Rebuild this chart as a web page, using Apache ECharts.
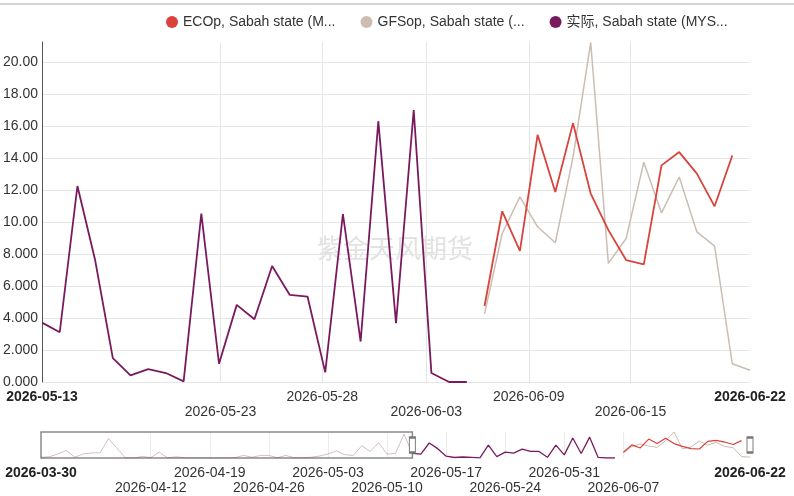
<!DOCTYPE html>
<html><head><meta charset="utf-8">
<script src="https://cdn.jsdelivr.net/npm/echarts@6/dist/echarts.min.js"></script>
<style>html,body{margin:0;padding:0;background:#fff}#c{width:794px;height:496px}</style>
</head><body><div id="c"></div>
<script>
// ---------- data ----------
const seriesNames = ['ECOp, Sabah state (M...', 'GFSop, Sabah state (...', '实际, Sabah state (MYS...'];
const watermarkText = '紫金天风期货';

const actualStart = '2026-03-30';
const actualValues = [0.6, 1.0, 3.3, 6.2, 0.6, 3.3, 4.2, 4.2, 15.8, 8.0,
  0.1, 0, 1.2, 0.3, 4.8, 0.1, 1.0, 0.2, 0, 0,
  0, 0, 0, 0.3, 2.1, 0.6, 2.1, 2.1, 0.2, 2.1,
  0.2, 0.2, 0.6, 1.6, 3.3, 5.8, 2.7, 2.1, 10.0, 5.4,
  12.5, 3.1, 3.75, 19.4,
  3.71, 3.11, 12.25, 7.62, 1.49, 0.41, 0.81, 0.56, 0.04, 10.53,
  1.14, 4.82, 3.92, 7.25, 5.44, 5.34, 0.6, 10.5, 2.53, 16.3,
  3.67, 17.0, 0.56, 0, 0];

const forecastStart = '2026-06-07';
const ecopValues = [4.75, 10.67, 8.2, 15.45, 11.88, 16.18, 11.78, 9.49, 7.62, 7.35, 13.54, 14.37, 13.02, 10.98, 14.16];
const gfsopValues = [4.26, 9.28, 11.57, 9.7, 8.7, 14.06, 21.22, 7.41, 8.97, 13.74, 10.57, 12.81, 9.38, 8.49, 1.14, 0.73];

const viewStart = '2026-05-13';
const viewEnd = '2026-06-22';
const fullStart = '2026-03-30';
const fullEnd = '2026-06-22';
const mainTickValues = ['2026-05-23 02:00', '2026-05-28 20:00', '2026-06-03 17:00', '2026-06-09 12:00', '2026-06-15 06:00'];
const navTickValues = ['2026-04-12', '2026-04-19', '2026-04-26', '2026-05-03', '2026-05-10', '2026-05-17', '2026-05-24', '2026-05-31', '2026-06-07'];
const yTickValues = [0, 2, 4, 6, 8, 10, 12, 14, 16, 18, 20];

// ---------- helpers ----------
function parseLocal(s) {
  const parts = s.split(' ');
  const dp = parts[0].split('-').map(Number);
  let h = 0, mi = 0;
  if (parts[1]) { const tp = parts[1].split(':').map(Number); h = tp[0]; mi = tp[1]; }
  return new Date(dp[0], dp[1] - 1, dp[2], h, mi).getTime();
}
function seq(start, values) {
  const d0 = new Date(parseLocal(start));
  return values.map((v, i) => [new Date(d0.getFullYear(), d0.getMonth(), d0.getDate() + i).getTime(), v]);
}
function pad(n) { return (n < 10 ? '0' : '') + n; }
function fmt(ts) { const d = new Date(ts); return d.getFullYear() + '-' + pad(d.getMonth() + 1) + '-' + pad(d.getDate()); }
function makeFormatter(list) {
  return function (value) {
    const v = typeof value === 'number' ? value : +value;
    const i = list.findIndex(t => Math.abs(t - v) < 60000);
    if (i < 0) return '';
    const txt = fmt(v);
    if (i === 0 || i === list.length - 1) return '{b|' + txt + '}';
    return (i % 2 === 1 ? '\n' : '') + txt;
  };
}

const vStart = parseLocal(viewStart), vEnd = parseLocal(viewEnd);
const fStart = parseLocal(fullStart), fEnd = parseLocal(fullEnd);
const actualData = seq(actualStart, actualValues);
const ecopData = seq(forecastStart, ecopValues);
const gfsopData = seq(forecastStart, gfsopValues);
const navMax = Math.max(...actualValues, ...ecopValues, ...gfsopValues);
const actualInView = actualData.filter(p => p[0] >= vStart && p[0] <= vEnd);
const actualOutView = actualData.filter(p => p[0] <= vStart);

const mainTicks = mainTickValues.map(parseLocal);
const mainLabels = [vStart].concat(mainTicks, [vEnd]);
const navTicks = navTickValues.map(parseLocal);
const navLabels = [fStart].concat(navTicks, [fEnd]);

const colors = { ecop: '#d9433c', gfsop: '#cbbdb1', actual: '#7a1a5e' };
const FONT = '"Liberation Sans", Arial, "Noto Sans CJK SC", sans-serif';

const chart = echarts.init(document.getElementById('c'), null, { renderer: 'canvas' });
chart.setOption({
  animation: false,
  backgroundColor: '#fff',
  textStyle: { fontFamily: FONT },
  legend: {
    data: seriesNames,
    left: 161, top: 10,
    icon: 'circle', itemWidth: 12, itemHeight: 12, itemGap: 25,
    textStyle: { fontSize: 14, color: '#333', fontFamily: FONT }
  },
  graphic: [
    { type: 'rect', shape: { x: 0, y: 3, width: 794, height: 2 }, style: { fill: '#d4d4d4' }, silent: true },
    { type: 'text', x: 395, y: 248, z: 0, silent: true,
      style: { text: watermarkText, fontSize: 26, fill: '#e2e2e2', align: 'center', verticalAlign: 'middle', fontFamily: '"Noto Sans CJK SC", sans-serif' } }
  ],
  grid: [
    { left: 41, right: 44, top: 42, bottom: 114 },
    { left: 41, right: 44, top: 432, bottom: 30 }
  ],
  xAxis: [
    {
      type: 'value', gridIndex: 0, min: vStart, max: vEnd, scale: true,
      axisLine: { show: false }, axisTick: { show: false, customValues: mainTicks },
      splitLine: { show: true, lineStyle: { color: '#e6e6e6', width: 1 } },
      axisLabel: {
        customValues: mainLabels, formatter: makeFormatter(mainLabels),
        fontSize: 14, color: '#333', margin: 8, lineHeight: 15, fontFamily: FONT,
        rich: { b: { fontSize: 14, fontWeight: 'bold', color: '#222', lineHeight: 15, fontFamily: FONT } }
      }
    },
    {
      type: 'value', gridIndex: 1, min: fStart, max: fEnd, scale: true,
      axisLine: { show: false }, axisTick: { show: false, customValues: navTicks },
      splitLine: { show: true, lineStyle: { color: '#ececec', width: 1 } },
      axisLabel: {
        customValues: navLabels, formatter: makeFormatter(navLabels),
        fontSize: 14, color: '#333', margin: 8, lineHeight: 15, fontFamily: FONT,
        rich: { b: { fontSize: 14, fontWeight: 'bold', color: '#222', lineHeight: 15, fontFamily: FONT } }
      }
    }
  ],
  yAxis: [
    {
      type: 'value', gridIndex: 0, min: 0, max: 21.25,
      axisLine: { show: true, lineStyle: { color: '#555', width: 1 } },
      axisTick: { show: false, customValues: yTickValues },
      splitLine: { show: true, lineStyle: { color: '#e6e6e6', width: 1 } },
      axisLabel: {
        customValues: yTickValues,
        formatter: v => (v >= 10 ? v.toFixed(2) : v.toFixed(3)),
        fontSize: 14, color: '#333', margin: 4, fontFamily: FONT
      }
    },
    { type: 'value', gridIndex: 1, min: 0, max: navMax, show: false, splitLine: { show: false } }
  ],
  series: [
    { name: seriesNames[1], type: 'line', xAxisIndex: 0, yAxisIndex: 0, data: gfsopData, showSymbol: false,
      itemStyle: { color: colors.gfsop }, lineStyle: { color: colors.gfsop, width: 1.5 }, z: 2 },
    { name: seriesNames[0], type: 'line', xAxisIndex: 0, yAxisIndex: 0, data: ecopData, showSymbol: false,
      itemStyle: { color: colors.ecop }, lineStyle: { color: colors.ecop, width: 1.8 }, z: 3 },
    { name: seriesNames[2], type: 'line', xAxisIndex: 0, yAxisIndex: 0, data: actualInView, showSymbol: false,
      itemStyle: { color: colors.actual }, lineStyle: { color: colors.actual, width: 1.8 }, z: 4 },

    { name: 'nav-actual-out', type: 'line', xAxisIndex: 1, yAxisIndex: 1, silent: true,
      data: actualOutView, showSymbol: false,
      lineStyle: { color: colors.actual, width: 1, opacity: 0.3 },
      markArea: { silent: true, itemStyle: { color: 'rgba(0,0,0,0)', borderColor: '#8a8a8a', borderWidth: 1.5 },
        data: [[{ xAxis: fStart }, { xAxis: vStart }]] } },
    { name: 'nav-actual-in', type: 'line', xAxisIndex: 1, yAxisIndex: 1, silent: true,
      data: actualInView, showSymbol: false,
      lineStyle: { color: colors.actual, width: 1.3 } },
    { name: 'nav-gfsop', type: 'line', xAxisIndex: 1, yAxisIndex: 1, silent: true,
      data: gfsopData, showSymbol: false, lineStyle: { color: colors.gfsop, width: 1 } },
    { name: 'nav-ecop', type: 'line', xAxisIndex: 1, yAxisIndex: 1, silent: true,
      data: ecopData, showSymbol: false, lineStyle: { color: colors.ecop, width: 1.2 },
      markPoint: { silent: true, symbol: 'rect', symbolSize: [6, 15], label: { show: false },
        itemStyle: { color: '#fff', borderColor: '#777', borderWidth: 1.5 },
        data: [{ coord: [vStart, navMax / 2] }, { coord: [vEnd, navMax / 2] }] } }
  ]
});
</script>
</body></html>
